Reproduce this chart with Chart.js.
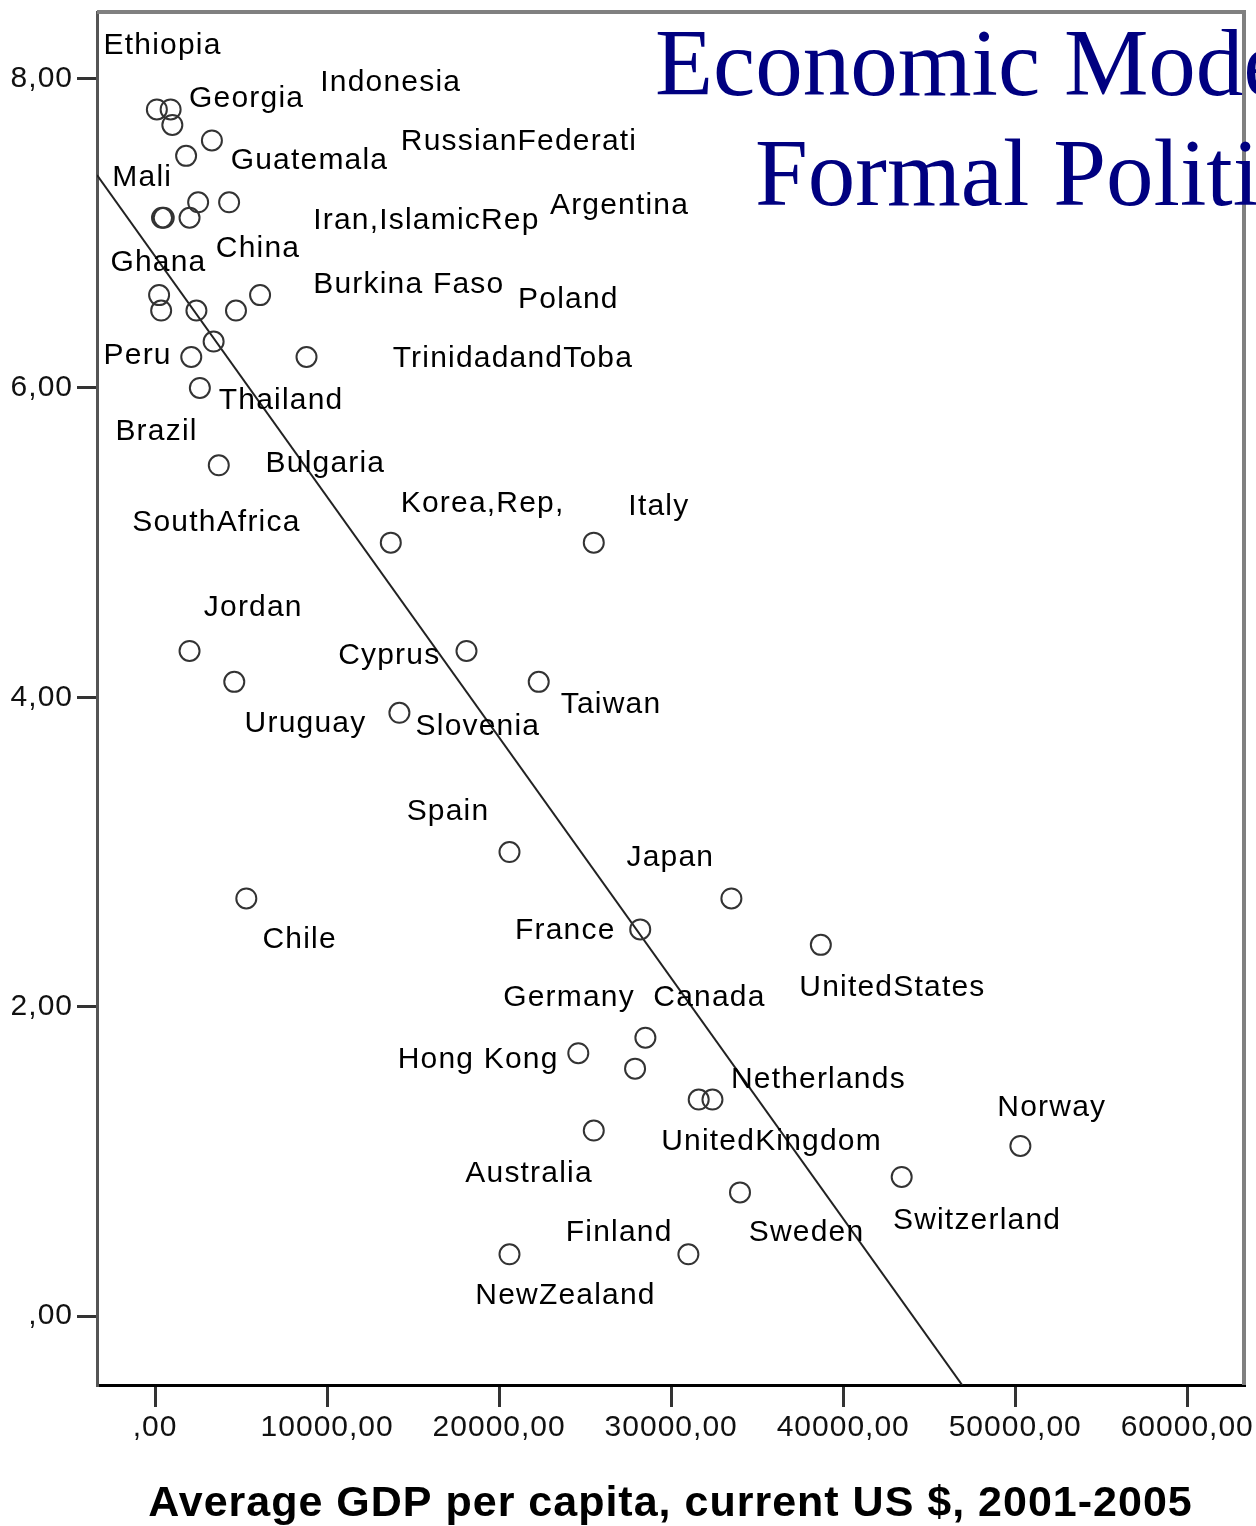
<!DOCTYPE html>
<html lang="en">

<head>
  <meta charset="UTF-8">
  <title>GDP per capita</title>
</head>

<style>
  body {
    margin: 0;
    background-color: #fff;
  }

  .chartContainer {
    position: relative;
    width: 1256px;
    height: 1526px;
  }
</style>

<body>
  <script src="https://cdn.jsdelivr.net/npm/chart.js"></script>
  <div class="chartContainer">
    <canvas id="gdpChart"></canvas>
  </div>

  <script>
    //////////
    // DATA //
    //////////

    // the circles: GDP per capita and the index value
    const gdp = [100, 900, 1000, 1800, 3300, 400, 500, 2000, 2500, 4300,
      230, 350, 2400, 4700, 6100, 3400, 2100, 8800, 2600, 3700,
      13700, 25500, 2000, 4600, 18100, 22300, 14200, 20600, 5300, 33500,
      28200, 38700, 28500, 24600, 27900, 31600, 32400, 25500, 43400, 50300,
      34000, 20600, 31000];
    const score = [7.8, 7.8, 7.7, 7.5, 7.6, 7.1, 7.1, 7.1, 7.2, 7.2,
      6.6, 6.5, 6.5, 6.5, 6.6, 6.3, 6.2, 6.2, 6.0, 5.5,
      5.0, 5.0, 4.3, 4.1, 4.3, 4.1, 3.9, 3.0, 2.7, 2.7,
      2.5, 2.4, 1.8, 1.7, 1.6, 1.4, 1.4, 1.2, 0.9, 1.1,
      0.8, 0.4, 0.4];

    // country names, placed where they sit in the picture (in axis units)
    const countries = ['Ethiopia', 'Georgia', 'Indonesia', 'RussianFederati', 'Guatemala', 'Mali',
      'Argentina', 'Iran,IslamicRep', 'China', 'Ghana', 'Burkina Faso', 'Poland',
      'TrinidadandToba', 'Peru', 'Thailand', 'Brazil', 'Bulgaria', 'Korea,Rep,',
      'Italy', 'SouthAfrica', 'Jordan', 'Cyprus', 'Taiwan', 'Uruguay',
      'Slovenia', 'Spain', 'Japan', 'Chile', 'France', 'UnitedStates',
      'Germany', 'Canada', 'Hong Kong', 'Netherlands', 'Norway', 'UnitedKingdom',
      'Australia', 'Switzerland', 'Finland', 'Sweden', 'NewZealand'];
    const countryGdp = [-3000, 1970, 9600, 14280, 4390, -2490,
      22950, 9190, 3530, -2600, 9190, 21100,
      13810, -3000, 3700, -2310, 6420, 14280,
      27510, -1330, 2830, 10640, 23580, 5200,
      15140, 14620, 27400, 6240, 20920, 37450,
      20230, 28960, 14100, 33470, 48960, 29420,
      18030, 42890, 23870, 34510, 18610];
    const countryScore = [8.21, 7.87, 7.97, 7.59, 7.47, 7.36,
      7.18, 7.08, 6.90, 6.81, 6.67, 6.57,
      6.19, 6.21, 5.92, 5.72, 5.51, 5.25,
      5.23, 5.13, 4.58, 4.27, 3.95, 3.83,
      3.81, 3.26, 2.96, 2.43, 2.49, 2.12,
      2.06, 2.06, 1.66, 1.53, 1.35, 1.13,
      0.92, 0.62, 0.54, 0.54, 0.13];

    // fit line
    const fitIntercept = 6.85;
    const fitSlope = -0.0001555;

    // axis ranges and ticks
    const xMin = -3380, xMax = 63300;
    const yMin = -0.445, yMax = 8.43;
    const xTickValues = [0, 10000, 20000, 30000, 40000, 50000, 60000];
    const yTickValues = [0, 2, 4, 6, 8];

    const titleLines = ['Economic Mode', 'Formal Politi'];

    /////////////
    // HELPERS //
    /////////////

    // SPSS style numbers: 8,00  ,00  10000,00
    function spssNumber(v) {
      if (v === 0) return ',00';
      return v.toFixed(2).replace('.', ',');
    }

    const points = gdp.map((g, i) => ({ x: g, y: score[i] }));
    const fitLine = [
      { x: xMin, y: fitIntercept + fitSlope * xMin },
      { x: xMax, y: fitIntercept + fitSlope * xMax }
    ];

    // frame, country names and the slide title
    const extras = {
      id: 'extras',
      beforeDraw(chart) {
        chart.ctx.letterSpacing = '1px';
      },
      afterDatasetsDraw(chart) {
        const { ctx, chartArea, scales } = chart;
        ctx.save();
        ctx.strokeStyle = '#808080';
        ctx.lineWidth = 4;
        ctx.beginPath();
        ctx.moveTo(chartArea.left, chartArea.top);
        ctx.lineTo(chartArea.right, chartArea.top);
        ctx.lineTo(chartArea.right, chartArea.bottom);
        ctx.stroke();

        ctx.fillStyle = '#000';
        ctx.font = '30px "Liberation Sans"';
        ctx.letterSpacing = '1.2px';
        ctx.textAlign = 'left';
        ctx.textBaseline = 'middle';
        countries.forEach((name, i) => {
          ctx.fillText(name, scales.x.getPixelForValue(countryGdp[i]), scales.y.getPixelForValue(countryScore[i]));
        });
        ctx.restore();
      },
      afterDraw(chart) {
        const ctx = chart.ctx;
        ctx.save();
        ctx.letterSpacing = '0px';
        ctx.fillStyle = '#000080';
        ctx.font = '95px "Liberation Serif"';
        ctx.textAlign = 'left';
        ctx.textBaseline = 'alphabetic';
        ctx.fillText(titleLines[0], 655, 95);
        ctx.fillText(titleLines[1], 755, 205);
        ctx.restore();
      }
    };

    ///////////
    // CHART //
    ///////////

    Chart.defaults.font.family = '"Liberation Sans", Arial, sans-serif';
    Chart.defaults.color = '#111';

    new Chart(document.getElementById('gdpChart'), {
      type: 'scatter',
      data: {
        datasets: [{
          data: points,
          pointStyle: 'circle',
          pointRadius: 10,
          pointHoverRadius: 10,
          borderWidth: 2,
          borderColor: '#333',
          backgroundColor: 'rgba(0,0,0,0)'
        }, {
          data: fitLine,
          showLine: true,
          pointRadius: 0,
          borderWidth: 2,
          borderColor: '#222'
        }]
      },
      options: {
        responsive: true,
        maintainAspectRatio: false,
        animation: false,
        layout: { padding: { top: 11, right: 6, left: 0, bottom: 0 } },
        plugins: {
          legend: { display: false },
          tooltip: { enabled: false }
        },
        scales: {
          x: {
            type: 'linear',
            position: 'bottom',
            min: xMin,
            max: xMax,
            afterBuildTicks(scale) {
              scale.ticks = xTickValues.map(v => ({ value: v }));
            },
            afterFit(scale) {
              scale.height = 141;
              scale.paddingLeft = 0;
              scale.paddingRight = 0;
            },
            ticks: {
              padding: 3,
              maxRotation: 0,
              autoSkip: false,
              font: { size: 30 },
              color: '#111',
              callback: spssNumber
            },
            grid: {
              drawOnChartArea: false,
              tickLength: 22,
              lineWidth: 3,
              color: '#333'
            },
            border: { display: true, color: '#000', width: 3 },
            title: {
              display: true,
              text: 'Average GDP per capita, current US $, 2001-2005',
              color: '#000',
              padding: 0,
              font: { size: 43, weight: 'bold', lineHeight: 1 }
            }
          },
          y: {
            min: yMin,
            max: yMax,
            afterBuildTicks(scale) {
              scale.ticks = yTickValues.map(v => ({ value: v }));
            },
            afterFit(scale) {
              scale.width = 97;
              scale.paddingTop = 0;
              scale.paddingBottom = 0;
            },
            ticks: {
              padding: 4,
              autoSkip: false,
              font: { size: 30 },
              color: '#111',
              callback: spssNumber
            },
            grid: {
              drawOnChartArea: false,
              tickLength: 20,
              lineWidth: 3,
              color: '#333'
            },
            border: { display: true, color: '#555', width: 3 }
          }
        }
      },
      plugins: [extras]
    });
  </script>
</body>

</html>
